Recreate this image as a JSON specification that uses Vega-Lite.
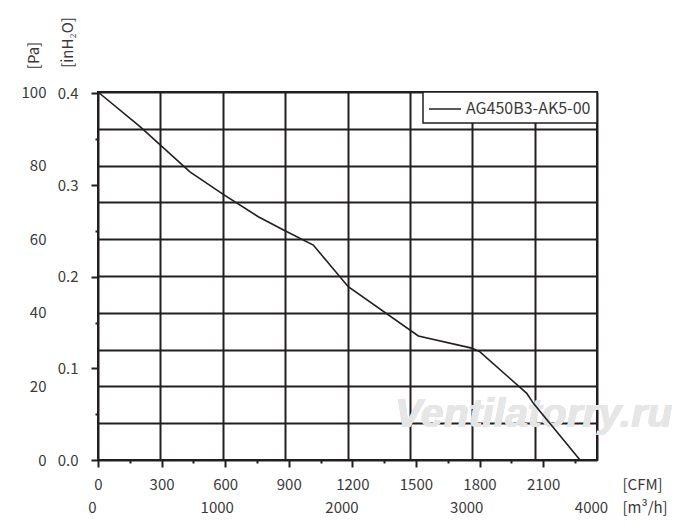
{
  "$schema": "https://vega.github.io/schema/vega-lite/v6.json",
  "width": 499,
  "height": 368,
  "autosize": "none",
  "padding": {"left": 98, "top": 92, "right": 103, "bottom": 71},
  "background": "white",
  "data": {
    "values": [
      {"m3h": 0, "pa": 100, "model": "AG450B3-AK5-00"},
      {"m3h": 337, "pa": 90.6, "model": "AG450B3-AK5-00"},
      {"m3h": 737, "pa": 78.3, "model": "AG450B3-AK5-00"},
      {"m3h": 1004, "pa": 72.2, "model": "AG450B3-AK5-00"},
      {"m3h": 1285, "pa": 66.1, "model": "AG450B3-AK5-00"},
      {"m3h": 1499, "pa": 62.3, "model": "AG450B3-AK5-00"},
      {"m3h": 1726, "pa": 58.4, "model": "AG450B3-AK5-00"},
      {"m3h": 2006, "pa": 47.1, "model": "AG450B3-AK5-00"},
      {"m3h": 2568, "pa": 33.7, "model": "AG450B3-AK5-00"},
      {"m3h": 2996, "pa": 30.4, "model": "AG450B3-AK5-00"},
      {"m3h": 3062, "pa": 29.4, "model": "AG450B3-AK5-00"},
      {"m3h": 3437, "pa": 18.1, "model": "AG450B3-AK5-00"},
      {"m3h": 3490, "pa": 15.4, "model": "AG450B3-AK5-00"},
      {"m3h": 3864, "pa": 0, "model": "AG450B3-AK5-00"}
    ]
  },
  "layer": [
    {
      "mark": {"type": "text", "font": "Liberation Sans", "fontSize": 41, "fontStyle": "italic", "fontWeight": "bold", "fill": "#e6e6e6", "opacity": 0.75, "align": "left", "baseline": "alphabetic"},
      "encoding": {
        "x": {"datum": 2381, "type": "quantitative", "axis": null},
        "y": {"datum": 9, "type": "quantitative", "axis": null},
        "text": {"value": "Ventilatorry.ru"}
      }
    },
    {
      "mark": {"type": "line", "strokeWidth": 1.6},
      "encoding": {
        "x": {
          "field": "m3h",
          "type": "quantitative",
          "scale": {"domain": [0, 4000], "nice": false, "zero": false},
          "axis": {
            "orient": "bottom",
            "values": [0, 500, 1000, 1500, 2000, 2500, 3000, 3500, 4000],
            "labelExpr": "datum.value % 1000 == 0 ? datum.label : ''",
            "format": "d",
            "grid": true,
            "ticks": false,
            "domain": false,
            "labelPadding": 47,
            "labelOffset": -6,
            "labelBaseline": "middle",
            "title": "[m³/h]",
            "titleX": 524,
            "titleY": 47,
            "titleAlign": "left",
            "titleBaseline": "middle",
            "titleAngle": 0
          }
        },
        "y": {
          "field": "pa",
          "type": "quantitative",
          "scale": {"domain": [0, 100], "nice": false},
          "axis": {
            "orient": "left",
            "values": [0, 10, 20, 30, 40, 50, 60, 70, 80, 90, 100],
            "labelExpr": "datum.value % 20 == 0 ? datum.label : ''",
            "grid": true,
            "ticks": false,
            "domain": false,
            "labelPadding": 52,
            "title": "[Pa]",
            "titleX": -65,
            "titleY": -37,
            "titleAngle": 270,
            "titleAlign": "center",
            "titleBaseline": "middle"
          }
        },
        "color": {
          "field": "model",
          "type": "nominal",
          "scale": {"range": ["#231f20"]},
          "legend": {
            "title": null,
            "orient": "top-right",
            "offset": 0,
            "symbolType": "M-1.6,0H1.6",
            "symbolSize": 400,
            "symbolOffset": 5,
            "symbolStrokeWidth": 1.5,
            "labelOffset": 10,
            "padding": 6,
            "strokeColor": "#231f20",
            "fillColor": "white"
          }
        }
      }
    },
    {
      "mark": {"type": "line", "opacity": 0},
      "encoding": {
        "x": {
          "field": "m3h",
          "type": "quantitative",
          "axis": {
            "orient": "bottom",
            "values": [0, 254.85, 509.7, 764.56, 1019.41, 1274.26, 1529.11, 1783.97, 2038.82, 2293.67, 2548.52, 2803.37, 3058.23, 3313.08, 3567.93, 3822.78],
            "labelExpr": "round(datum.value / 254.8517) % 2 == 0 ? format(datum.value * 0.588578, '.0f') : ''",
            "tickSize": {"condition": {"test": "round(datum.value / 254.8517) % 2 == 0", "value": 7}, "value": 3},
            "grid": false,
            "domain": false,
            "labelPadding": 17,
            "labelBaseline": "middle",
            "title": "[CFM]",
            "titleX": 524,
            "titleY": 24,
            "titleAlign": "left",
            "titleBaseline": "middle",
            "titleAngle": 0
          }
        },
        "y": {
          "field": "pa",
          "type": "quantitative",
          "axis": {
            "orient": "left",
            "values": [0, 12.4545, 24.909, 37.3635, 49.818, 62.2725, 74.727, 87.1815, 99.636],
            "labelExpr": "round(datum.value / 12.4545) % 2 == 0 ? format(datum.value / 249.089, '.1f') : ''",
            "tickSize": {"condition": {"test": "round(datum.value / 12.4545) % 2 == 0", "value": 7}, "value": 3},
            "grid": false,
            "domain": false,
            "labelPadding": 13,
            "title": "[inH₂O]",
            "titleX": -31,
            "titleY": -50,
            "titleAngle": 270,
            "titleAlign": "center",
            "titleBaseline": "middle"
          }
        }
      }
    }
  ],
  "resolve": {"axis": {"x": "independent", "y": "independent"}},
  "config": {
    "view": {"stroke": "#231f20", "strokeWidth": 2},
    "font": "Noto Sans CJK SC",
    "axis": {
      "labelFont": "Noto Sans CJK SC",
      "labelFontSize": 15,
      "labelColor": "#3a3a3a",
      "labelFlush": false,
      "labelOverlap": false,
      "titleFont": "Noto Sans CJK SC",
      "titleFontSize": 15,
      "titleFontWeight": "normal",
      "titleColor": "#3a3a3a",
      "gridColor": "#231f20",
      "gridWidth": 2,
      "gridOpacity": 1,
      "tickColor": "#231f20",
      "tickWidth": 2
    },
    "legend": {
      "labelFont": "Noto Sans CJK SC",
      "labelFontSize": 16,
      "labelColor": "#3a3a3a",
      "strokeWidth": 1.5
    }
  }
}
